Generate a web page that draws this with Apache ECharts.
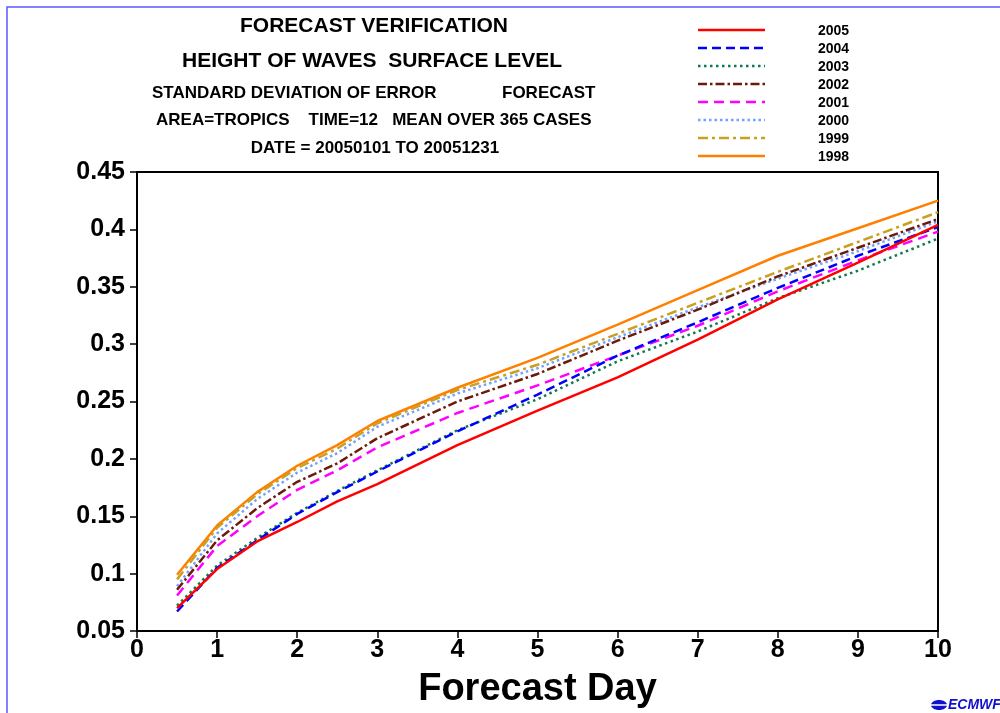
<!DOCTYPE html>
<html lang="en">
<head>
    <meta charset="UTF-8">
    <script src="https://cdn.jsdelivr.net/npm/echarts@6/dist/echarts.min.js"></script>
    <title>Forecast verification</title>
</head>
<body style="margin:0;background:#fff;">
    <div id="main" style="width:1000px;height:713px;"></div>
    <script>
        // forecast days (x) and std dev of error per year
        var days = [0.5, 1, 1.5, 2, 2.5, 3, 4, 5, 6, 7, 8, 9, 10];
        var y2005 = [0.070, 0.104, 0.128, 0.145, 0.163, 0.178, 0.212, 0.242, 0.271, 0.304, 0.339, 0.371, 0.404];
        var y2004 = [0.067, 0.105, 0.129, 0.152, 0.171, 0.189, 0.224, 0.256, 0.290, 0.319, 0.349, 0.377, 0.402];
        var y2003 = [0.072, 0.107, 0.131, 0.153, 0.172, 0.190, 0.225, 0.252, 0.285, 0.311, 0.340, 0.364, 0.392];
        var y2002 = [0.086, 0.129, 0.157, 0.180, 0.196, 0.218, 0.250, 0.274, 0.303, 0.330, 0.359, 0.384, 0.409];
        var y2001 = [0.081, 0.124, 0.150, 0.173, 0.190, 0.210, 0.240, 0.264, 0.290, 0.316, 0.346, 0.373, 0.398];
        var y2000 = [0.089, 0.135, 0.165, 0.188, 0.205, 0.228, 0.257, 0.279, 0.306, 0.332, 0.357, 0.381, 0.407];
        var y1999 = [0.095, 0.140, 0.169, 0.192, 0.209, 0.231, 0.260, 0.282, 0.309, 0.336, 0.363, 0.389, 0.415];
        var y1998 = [0.099, 0.142, 0.171, 0.194, 0.212, 0.233, 0.262, 0.288, 0.317, 0.347, 0.377, 0.401, 0.425];

        var years = ['2005', '2004', '2003', '2002', '2001', '2000', '1999', '1998'];
        var values = [y2005, y2004, y2003, y2002, y2001, y2000, y1999, y1998];
        var colors = ['#ff0000', '#0000ff', '#117a4c', '#6b1a0c', '#ff00ff', '#72a2ff', '#c9a021', '#ff8000'];
        var dashes = ['solid', [9, 5], [2.5, 3.5], [9, 3, 2.5, 3], [10, 6], [2.5, 3], [10, 4, 3, 4], 'solid'];

        var font = '"Liberation Sans", Arial, sans-serif';

        var series = years.map(function (yr, i) {
            return {
                name: yr,
                type: 'line',
                symbol: 'none',
                data: days.map(function (d, j) { return [d, values[i][j]]; }),
                lineStyle: { color: colors[i], width: 2.5, type: dashes[i] },
                itemStyle: { color: colors[i] },
                z: 10 - i
            };
        });

        var graphics = [
            {
                type: 'rect', silent: true,
                shape: { x: 7, y: 7, width: 1100, height: 1000 },
                style: { fill: 'none', stroke: '#5a5aff', lineWidth: 1.5 }
            },
            {
                type: 'text', x: 374, y: 26,
                style: { text: 'FORECAST VERIFICATION', font: 'bold 21px ' + font, fill: '#000', align: 'center', verticalAlign: 'middle' }
            },
            {
                type: 'text', x: 372, y: 61,
                style: { text: 'HEIGHT OF WAVES  SURFACE LEVEL', font: 'bold 21px ' + font, fill: '#000', align: 'center', verticalAlign: 'middle' }
            },
            {
                type: 'text', x: 152, y: 93,
                style: { text: 'STANDARD DEVIATION OF ERROR', font: 'bold 17px ' + font, fill: '#000', align: 'left', verticalAlign: 'middle' }
            },
            {
                type: 'text', x: 502, y: 93,
                style: { text: 'FORECAST', font: 'bold 17px ' + font, fill: '#000', align: 'left', verticalAlign: 'middle' }
            },
            {
                type: 'text', x: 156, y: 120,
                style: { text: 'AREA=TROPICS    TIME=12   MEAN OVER 365 CASES', font: 'bold 17px ' + font, fill: '#000', align: 'left', verticalAlign: 'middle' }
            },
            {
                type: 'text', x: 375, y: 148,
                style: { text: 'DATE = 20050101 TO 20051231', font: 'bold 17px ' + font, fill: '#000', align: 'center', verticalAlign: 'middle' }
            },
            {
                type: 'text', x: 948, y: 705,
                style: { text: 'ECMWF', font: 'bold italic 14px ' + font, fill: '#1010d0', align: 'left', verticalAlign: 'middle' }
            },
            {
                type: 'ellipse', silent: true,
                shape: { cx: 939, cy: 705, rx: 8, ry: 5 },
                style: { fill: '#1010d0' }
            },
            {
                type: 'line', silent: true,
                shape: { x1: 931, y1: 705, x2: 947, y2: 705 },
                style: { stroke: '#fff', lineWidth: 1.5 }
            }
        ];

        // legend sample lines with each series' dash pattern
        years.forEach(function (yr, i) {
            graphics.push({
                type: 'line', silent: true,
                shape: { x1: 698, y1: 30 + i * 18, x2: 765, y2: 30 + i * 18 },
                style: { stroke: colors[i], lineWidth: 2.5, lineDash: dashes[i] === 'solid' ? null : dashes[i] }
            });
        });

        var chart = echarts.init(document.getElementById('main'));
        var option = {
            backgroundColor: '#fff',
            animation: false,
            grid: {
                left: 137, right: 62, top: 172, bottom: 82,
                outerBoundsMode: 'none',
                show: true, borderColor: '#000', borderWidth: 2
            },
            legend: {
                orient: 'vertical',
                left: 761, top: 19,
                itemWidth: 47, itemHeight: 14, itemGap: 4,
                icon: 'rect',
                itemStyle: { opacity: 0 },
                lineStyle: { opacity: 0 },
                data: years,
                textStyle: {
                    fontFamily: font, fontSize: 14, fontWeight: 'bold', color: '#000'
                }
            },
            xAxis: {
                type: 'value', min: 0, max: 10, interval: 1,
                name: 'Forecast Day', nameLocation: 'middle', nameGap: 40,
                nameTextStyle: { fontFamily: font, fontSize: 38, fontWeight: 'bold', color: '#000' },
                axisLine: { lineStyle: { color: '#000', width: 2 } },
                axisTick: { length: 7, lineStyle: { color: '#000', width: 1.5 } },
                axisLabel: { fontFamily: font, fontSize: 25, fontWeight: 'bold', color: '#000', margin: 7 },
                splitLine: { show: false }
            },
            yAxis: {
                type: 'value', min: 0.05, max: 0.45, interval: 0.05,
                axisLine: { show: true, lineStyle: { color: '#000', width: 2 } },
                axisTick: { show: true, length: 7, lineStyle: { color: '#000', width: 1.5 } },
                axisLabel: {
                    fontFamily: font, fontSize: 25, fontWeight: 'bold', color: '#000', margin: 12,
                    formatter: function (v) { return String(Math.round(v * 100) / 100); }
                },
                splitLine: { show: false }
            },
            graphic: graphics,
            series: series
        };
        chart.setOption(option);
    </script>
</body>
</html>
